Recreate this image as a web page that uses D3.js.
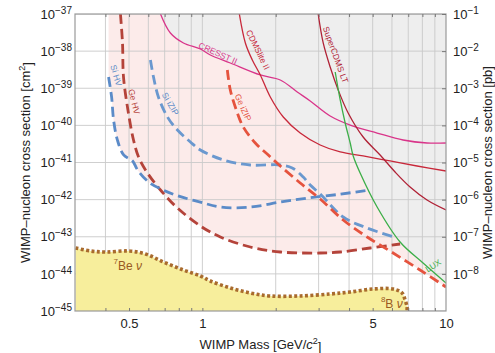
<!DOCTYPE html>
<html>
<head>
<meta charset="utf-8">
<script src="https://cdn.jsdelivr.net/npm/d3@7"></script>
<style>
  body { margin: 0; background: #fff; }
  svg { display: block; font-family: "Liberation Sans", Arial, Helvetica, sans-serif; }
</style>
</head>
<body>
<div id="chart"></div>
<script>
// mass in GeV/c^2, cross section in cm^2
const siHV = [[0.412,2.0e-39],[0.424,5.8e-40],[0.432,1.4e-40],[0.448,4.0e-41],[0.475,1.6e-41],[0.517,1.1e-41],[0.542,6.3e-42],[0.601,3.0e-42],[0.692,1.8e-42],[0.813,1.2e-42],[0.981,8.6e-43],[1.185,6.3e-43],[1.573,6.3e-43],[2.088,8.6e-43],[2.693,1.1e-42],[3.679,1.4e-42],[4.79,1.8e-42]];
const geHV = [[0.461,1e-37],[0.470,1.66e-38],[0.4745,2.0e-39],[0.497,2.16e-40],[0.5215,4.04e-41],[0.547,1.41e-41],[0.595,5.21e-42],[0.673,1.82e-42],[0.790,5.94e-43],[0.981,1.95e-43],[1.185,9.84e-44],[1.573,5.3e-44],[2.088,3.88e-44],[3.045,3.65e-44],[3.679,3.88e-44],[4.882,4.98e-44],[6.479,6.38e-44]];
const siIZIP = [[0.612,5.77e-39],[0.630,2.0e-39],[0.660,5.81e-40],[0.719,1.68e-40],[0.790,7.5e-41],[0.893,3.56e-41],[0.981,2.17e-41],[1.219,1.17e-41],[1.573,8.57e-42],[2.088,8.57e-42],[2.338,7.11e-42],[2.594,4.07e-42],[2.771,2.48e-42],[3.045,1.42e-42],[3.784,3.4e-43],[4.746,1.72e-43],[6.122,9.84e-44]];
const geIZIP = [[1.266,3.1e-39],[1.302,8.97e-40],[1.378,2.6e-40],[1.472,9.04e-41],[1.649,3.35e-41],[1.865,1.59e-41],[2.088,8.05e-42],[2.521,2.81e-42],[3.045,1.04e-42],[3.784,2.83e-43],[4.746,9.84e-44],[6.065,3.65e-44],[7.825,1.27e-44],[10,4.43e-45]];
const cresst = [[0.673,1e-37],[0.739,3.08e-38],[0.836,1.66e-38],[0.981,1.14e-38],[1.078,7.87e-39],[1.302,4.79e-39],[1.729,2.28e-39],[2.088,1.67e-39],[2.451,7.92e-40],[2.771,4.54e-40],[3.346,1.79e-40],[4.044,1.02e-40],[5.215,6.23e-41],[6.665,4.04e-41],[8.359,3.35e-41],[10,3.35e-41]];
const cdmslite = [[1.418,1e-37],[1.501,1.66e-38],[1.603,5.77e-39],[1.729,2.28e-39],[1.900,5.81e-40],[2.148,1.68e-40],[2.521,6.23e-41],[3.045,2.96e-41],[3.679,1.92e-41],[4.570,1.5e-41],[5.896,1.1e-41],[7.606,8.05e-42],[10,5.9e-42]];
const superLT = [[2.988,1e-37],[3.133,1.66e-38],[3.346,3.73e-39],[3.610,8.97e-40],[3.966,2.16e-40],[4.570,4.86e-41],[5.364,1.59e-41],[6.180,5.55e-42],[7.120,2.19e-42],[8.359,9.77e-43],[10,5.26e-43]];
const lux = [[3.509,2.74e-39],[3.679,4.83e-40],[3.856,1.16e-40],[4.044,3.35e-41],[4.160,1.5e-41],[4.442,5.21e-42],[5.215,6.33e-43],[6.479,7.22e-44],[8.050,1.96e-44],[10,5.68e-45]];
const nuFloor = [[0.3016,4.98e-44],[0.3475,4.13e-44],[0.4004,3.88e-44],[0.4974,4.13e-44],[0.584,3.43e-44],[0.692,2.09e-44],[0.836,1.27e-44],[0.981,8.77e-45],[1.078,6.43e-45],[1.302,4.16e-45],[1.573,3.05e-45],[1.900,2.54e-45],[2.521,2.54e-45],[3.346,2.87e-45],[4.044,3.25e-45],[5.022,3.91e-45],[6.065,3.91e-45],[6.602,3.05e-45],[6.792,1.98e-45],[6.921,1.28e-45],[6.921,1e-45]];

const massGrid = [0.4,0.5,0.6,0.7,0.8,0.9,1,2,3,4,5,6,7,8,9];
const massLabels = [0.5,1,5,10];
const cmTicks = [1e-37,1e-38,1e-39,1e-40,1e-41,1e-42,1e-43,1e-44,1e-45];
const pbTicks = [1e-1,1e-2,1e-3,1e-4,1e-5,1e-6,1e-7,1e-8];

// curve labels: text, mass, sigma, angle, colour
const curveLabels = [
  ['Si HV', 0.4398, 2.18e-39, 74, '#5b8bc8'],
  ['Ge HV', 0.5215, 4.34e-40, 76, '#b4433a'],
  ['Si iZIP', 0.735, 3.7e-40, 60, '#5b8bc8'],
  ['Ge iZIP', 1.46, 2.99e-40, 66, '#e5533e'],
  ['CRESST II', 1.155, 8.4e-39, 24, '#d9358a'],
  ['CDMSlite II', 1.68, 1.07e-38, 64, '#c8283a'],
  ['SuperCDMS LT', 3.5, 7.87e-39, 70, '#b02236'],
  ['LUX', 8.9, 1.6e-44, -32, '#3bae48']
];

const W = 495, H = 353;
const margin = { top: 14, right: 49, bottom: 42, left: 75 };

const svg = d3.select('#chart').append('svg')
  .attr('width', W).attr('height', H);

const x = d3.scaleLog().domain([0.3, 10]).range([margin.left, W - margin.right]);
const y = d3.scaleLog().domain([1e-45, 1e-37]).range([H - margin.bottom, margin.top]);
const yPb = d3.scaleLog().domain([1e-9, 1e-1]).range([H - margin.bottom, margin.top]);

svg.append('clipPath').attr('id', 'plotclip')
  .append('rect')
  .attr('x', margin.left).attr('y', margin.top)
  .attr('width', x.range()[1] - x.range()[0])
  .attr('height', y.range()[0] - y.range()[1]);

const plot = svg.append('g').attr('clip-path', 'url(#plotclip)');

const smooth = d3.curveCatmullRom.alpha(0.5);
const line = d3.line().x(d => x(d[0])).y(d => y(d[1])).curve(smooth);
const above = d3.area().x(d => x(d[0])).y0(y(1e-37)).y1(d => y(d[1])).curve(smooth);
const below = d3.area().x(d => x(d[0])).y0(y(1e-45)).y1(d => y(d[1])).curve(smooth);

// projected sensitivity region
[siHV, geHV, siIZIP, geIZIP].forEach(c => {
  plot.append('path').attr('d', above(c)).attr('fill', '#fcebea');
});
// already excluded region
[cresst, cdmslite, superLT, lux].forEach(c => {
  plot.append('path').attr('d', above(c)).attr('fill', '#eeeeee');
});

// grid
plot.selectAll('.vgrid').data(massGrid).enter().append('line')
  .attr('x1', d => x(d)).attr('x2', d => x(d))
  .attr('y1', y.range()[1]).attr('y2', y.range()[0])
  .attr('stroke', '#c9c9c9').attr('stroke-width', 0.9);
plot.selectAll('.hgrid').data(cmTicks).enter().append('line')
  .attr('x1', x.range()[0]).attr('x2', x.range()[1])
  .attr('y1', d => y(d)).attr('y2', d => y(d))
  .attr('stroke', '#c9c9c9').attr('stroke-width', 0.9);

// neutrino floor
plot.append('path').attr('d', below(nuFloor)).attr('fill', '#f7ee9c');
plot.append('path').attr('d', line(nuFloor))
  .attr('fill', 'none').attr('stroke', '#a96b2d')
  .attr('stroke-width', 3.6).attr('stroke-dasharray', '3 2.4');

// existing limits
[[cresst, '#d9358a'], [cdmslite, '#c8283a'], [superLT, '#b02236'], [lux, '#3bae48']].forEach(([c, col]) => {
  plot.append('path').attr('d', line(c))
    .attr('fill', 'none').attr('stroke', col).attr('stroke-width', 1.3);
});

// projections
[[geHV, '#b4433a'], [siHV, '#5b8bc8'], [siIZIP, '#6a98cf'], [geIZIP, '#e5533e']].forEach(([c, col]) => {
  plot.append('path').attr('d', line(c))
    .attr('fill', 'none').attr('stroke', col)
    .attr('stroke-width', 2.8).attr('stroke-dasharray', '10 5');
});

// curve labels
plot.selectAll('.clabel').data(curveLabels).enter().append('text')
  .attr('transform', d => `translate(${x(d[1])},${y(d[2])}) rotate(${d[3]})`)
  .attr('text-anchor', 'middle')
  .attr('dominant-baseline', 'middle')
  .attr('font-size', 8.5)
  .attr('fill', d => d[4])
  .text(d => d[0]);

// neutrino labels
function nuLabel(sup, name, m, s) {
  const t = plot.append('text')
    .attr('x', x(m)).attr('y', y(s))
    .attr('text-anchor', 'middle').attr('dominant-baseline', 'middle')
    .attr('font-size', 12).attr('fill', '#9a5a22');
  t.append('tspan').attr('font-size', 8).attr('dy', '-0.4em').text(sup);
  t.append('tspan').attr('dy', '0.4em').text(name + ' ');
  t.append('tspan').attr('font-style', 'italic').text('ν');
}
nuLabel('7', 'Be', 0.494, 1.73e-44);
nuLabel('8', 'B', 5.991, 1.61e-45);

// frame
svg.append('rect')
  .attr('x', x.range()[0]).attr('y', y.range()[1])
  .attr('width', x.range()[1] - x.range()[0])
  .attr('height', y.range()[0] - y.range()[1])
  .attr('fill', 'none').attr('stroke', '#9a9a9a').attr('stroke-width', 1.2);

// axes
function styleAxis(g) {
  g.select('.domain').remove();
  g.attr('font-family', null).attr('font-size', 13);
  g.selectAll('.tick line').attr('stroke', '#777');
  g.selectAll('.tick text').attr('fill', '#222');
}

svg.append('g').attr('transform', `translate(0,${y.range()[1]})`)
  .call(d3.axisTop(x).tickValues(massGrid).tickSize(-3).tickFormat(''))
  .call(styleAxis);

svg.append('g').attr('transform', `translate(0,${y.range()[0]})`)
  .call(d3.axisBottom(x).tickValues(massGrid).tickSize(-3).tickFormat(''))
  .call(styleAxis);

svg.append('g').attr('transform', `translate(0,${y.range()[0]})`)
  .call(d3.axisBottom(x).tickValues(massLabels).tickSize(0).tickPadding(8).tickFormat(d3.format('')))
  .call(styleAxis);

function powLabels(g) {
  g.selectAll('.tick text').each(function(d) {
    const t = d3.select(this);
    t.text(null);
    t.append('tspan').text('10');
    t.append('tspan').attr('dy', '-0.5em').attr('font-size', 10)
      .text('\u2212' + Math.round(-Math.log10(d)));
  });
}

svg.append('g').attr('transform', `translate(${x.range()[0]},0)`)
  .call(d3.axisLeft(y).tickValues(cmTicks).tickSize(0).tickPadding(3))
  .call(styleAxis).call(powLabels);

svg.append('g').attr('transform', `translate(${x.range()[1]},0)`)
  .call(d3.axisRight(yPb).tickValues(pbTicks).tickSize(-4).tickPadding(7))
  .call(styleAxis).call(powLabels);

// titles
const leftTitle = svg.append('text')
  .attr('transform', `translate(27,${(y.range()[0] + y.range()[1]) / 2}) rotate(-90)`)
  .attr('text-anchor', 'middle').attr('dominant-baseline', 'middle')
  .attr('font-size', 13).attr('fill', '#222');
leftTitle.append('tspan').text('WIMP\u2013nucleon cross section [cm');
leftTitle.append('tspan').attr('dy', '-0.45em').attr('font-size', 9).text('2');
leftTitle.append('tspan').attr('dy', '0.45em').text(']');

const rightTitle = svg.append('text')
  .attr('transform', `translate(489,${(y.range()[0] + y.range()[1]) / 2}) rotate(-90)`)
  .attr('text-anchor', 'middle').attr('dominant-baseline', 'middle')
  .attr('font-size', 13).attr('fill', '#222')
  .text('WIMP\u2013nucleon cross section [pb]');

const bottomTitle = svg.append('text')
  .attr('x', (x.range()[0] + x.range()[1]) / 2).attr('y', 346)
  .attr('text-anchor', 'middle').attr('dominant-baseline', 'middle')
  .attr('font-size', 13).attr('fill', '#222');
bottomTitle.append('tspan').text('WIMP Mass [GeV/');
bottomTitle.append('tspan').attr('font-style', 'italic').text('c');
bottomTitle.append('tspan').attr('dy', '-0.45em').attr('font-size', 9).text('2');
bottomTitle.append('tspan').attr('dy', '0.45em').text(']');
</script>
</body>
</html>
